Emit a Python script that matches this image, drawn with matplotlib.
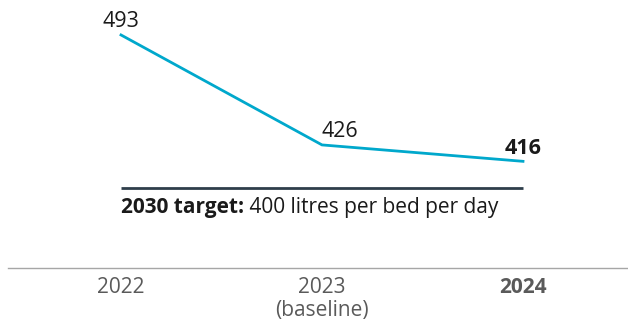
import matplotlib
matplotlib.use("Agg")
import matplotlib.pyplot as plt

plt.rcParams['font.family'] = ['Open Sans', 'DejaVu Sans']

years = ["2022", "2023", "2024"]
sublabels = ["", "(baseline)", ""]
values = [493, 426, 416]
target_value = 400
target_label = "2030 target:"
target_text = " 400 litres per bed per day"

line_color = "#00a8cc"
target_color = "#2f3e4b"
text_color = "#1a1a1a"
tick_color = "#5a5a5a"

DPI = 100
fig = plt.figure(figsize=(6.28, 3.24), dpi=DPI)
ax = fig.add_axes([8 / 628, 56 / 324, 620 / 628, 268 / 324])

x = list(range(len(years)))
ax.plot(x, values, color=line_color, lw=2.0, solid_joinstyle="miter", zorder=3)
ax.plot(x, [target_value] * len(x), color=target_color, lw=2.0,
        solid_capstyle="butt", zorder=2)

ax.set_xlim(-113 / 201, 507 / 201)
ax.set_ylim(351, 514.3)

for side in ("top", "left", "right"):
    ax.spines[side].set_visible(False)
ax.spines["bottom"].set_color("#a6a6a6")
ax.spines["bottom"].set_linewidth(1.0)
ax.set_yticks([])
ax.set_xticks([])

VAL_FS = 15.5
TXT_FS = 15

# value labels
ax.annotate(f"{values[0]}", (x[0], values[0]), xytext=(0, 5.8), textcoords="offset points",
            ha="center", va="baseline", fontsize=VAL_FS, color=text_color)
ax.annotate(f"{values[1]}", (x[1], values[1]), xytext=(0, 5.8), textcoords="offset points",
            ha="left", va="baseline", fontsize=VAL_FS, color=text_color)
ax.annotate(f"{values[2]}", (x[2], values[2]), xytext=(0, 5.0), textcoords="offset points",
            ha="center", va="baseline", fontsize=VAL_FS, color=text_color, fontweight="bold")

# target caption: bold lead followed by regular text on the same baseline
t1 = ax.annotate(target_label, (x[0], target_value), xytext=(0, -18),
                 textcoords="offset points", ha="left", va="baseline",
                 fontsize=TXT_FS, color=text_color, fontweight="bold")
fig.canvas.draw()
lead_w = t1.get_window_extent().width * 72 / DPI
ax.annotate(target_text, (x[0], target_value), xytext=(lead_w, -18),
            textcoords="offset points", ha="left", va="baseline",
            fontsize=TXT_FS, color=text_color)

# category labels under the axis
for i, (yr, sub) in enumerate(zip(years, sublabels)):
    ax.annotate(yr, (x[i], 0), xycoords=("data", "axes fraction"), xytext=(0, -18),
                textcoords="offset points", ha="center", va="baseline",
                fontsize=TXT_FS, color=tick_color,
                fontweight="bold" if i == len(years) - 1 else "normal",
                annotation_clip=False)
    if sub:
        ax.annotate(sub, (x[i], 0), xycoords=("data", "axes fraction"), xytext=(0, -34.6),
                    textcoords="offset points", ha="center", va="baseline",
                    fontsize=TXT_FS, color=tick_color, annotation_clip=False)

fig.savefig("out.png", dpi=DPI)
